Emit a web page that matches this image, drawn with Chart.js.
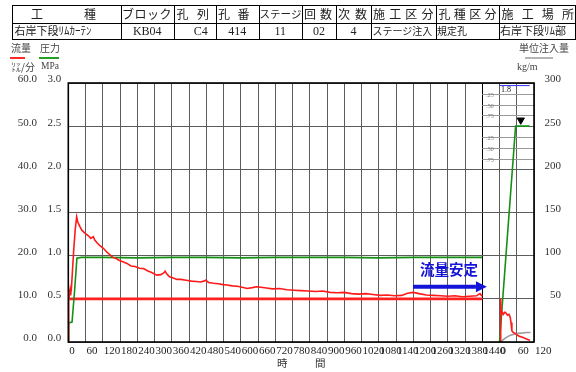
<!DOCTYPE html>
<html><head><meta charset="utf-8">
<script src="https://cdn.jsdelivr.net/npm/chart.js@4.4.1/dist/chart.umd.min.js"></script>
<style>
html,body{margin:0;padding:0;background:#fff;}
#wrap{position:relative;width:576px;height:372px;overflow:hidden;font-family:'Noto Sans CJK JP',sans-serif;color:#222;}
#wrap canvas{position:absolute;left:0;top:0;}
.abs{position:absolute;white-space:nowrap;line-height:1;}
.cell{position:absolute;display:flex;align-items:center;box-sizing:border-box;white-space:nowrap;line-height:1;}
.vl{position:absolute;width:1px;background:#000;}
.num{font-family:'Liberation Serif',serif;}
</style>
</head><body>
<div id="wrap">
<canvas id="c" width="576" height="372"></canvas>
<div id="tbl"></div>
<div class="abs" style="left:11px;top:43px;font-size:10px;color:#444;">流量</div>
<div class="abs" style="left:40px;top:43px;font-size:10px;color:#444;">圧力</div>
<div class="abs" style="left:10px;top:56.5px;width:15px;height:2px;background:#ff2a2a;"></div>
<div class="abs" style="left:39px;top:56.5px;width:20px;height:2px;background:#23a023;"></div>
<div class="abs" style="left:11px;top:61.5px;font-size:10px;color:#444;">㍑/分</div>
<div class="abs num" style="left:41px;top:62px;font-size:9.5px;color:#444;">MPa</div>
<div class="abs" style="left:519px;top:43px;font-size:10px;color:#444;">単位注入量</div>
<div class="abs" style="left:525px;top:56.5px;width:28px;height:2px;background:#b4b4b4;"></div>
<div class="abs num" style="left:517px;top:62px;font-size:10px;color:#444;">kg/m</div>
<div class="abs" style="left:277px;top:358px;font-size:10.5px;color:#333;">時</div>
<div class="abs" style="left:315px;top:358px;font-size:10.5px;color:#333;">間</div>
</div>
<script>
// ---- elapsed time axis (minutes); the stage-2 panel continues after a 60 min gap ----
const xTickLabels = ['0','60','120','180','240','300','360','420','480','540','600','660','720','780',
  '840','900','960','1020','1080','1140','1200','1260','1320','1380','1440','0','60','120'];

// main stage: flow rate (L/min)
const flowTime = [0,1,2,4,6,8,11,14,19,24,29,33,40,47,55,62,70,78,87,92,100,110,122,133,145,155,165,178,190,204,
  218,232,248,262,275,290,308,322,332,337,342,352,365,378,392,410,428,445,460,471,478,488,505,522,538,552,570,588,
  605,622,640,655,669,690,710,735,760,785,810,835,860,885,910,935,960,985,1010,1035,1060,1085,1110,1135,1160,1180,
  1200,1220,1245,1270,1295,1320,1345,1370,1395,1420,1432,1440];
const flowRate = [0,10.5,12.2,11.0,12.0,10.8,12.6,16.0,21.5,26.0,29.0,27.8,26.8,25.9,25.4,25.0,24.6,24.0,24.4,23.6,
  23.0,22.3,21.7,20.9,20.2,19.6,19.4,18.9,18.6,18.2,17.6,17.5,17.1,17.0,16.5,16.1,15.5,15.6,16.0,16.4,15.8,15.1,14.8,
  14.5,14.5,14.3,14.1,14.0,13.9,14.1,14.3,13.8,13.6,13.5,13.3,13.2,13.0,12.9,12.7,12.4,12.6,12.8,12.7,12.5,12.3,12.4,
  12.1,12.0,11.9,11.8,11.7,11.8,11.5,11.4,11.5,11.2,11.1,11.2,11.0,10.8,10.9,10.7,10.8,11.3,11.5,11.2,10.9,10.8,
  10.7,10.6,10.7,10.5,10.6,10.7,11.2,10.6];

// main stage: injection pressure (MPa)
const pressTime = [0,1,13,22,30,45,120,240,360,480,600,720,840,960,1080,1200,1320,1440];
const pressValue = [0,0.22,0.23,0.6,0.97,0.98,0.98,0.975,0.98,0.98,0.975,0.98,0.98,0.98,0.975,0.98,0.98,0.98];

// specified flow line (L/min)
const refTime = [0,1440];
const refFlow = [10,10];

// stage-2 panel
const s2PressTime = [1500,1556,1605];
const s2Press = [0,2.5,2.5];
const s2FlowTime = [1503,1504,1506,1509,1513,1519,1524,1528,1533,1537,1540,1543,1548,1555,1562,1570,1580,1590,1598,1606];
const s2Flow = [0,10.1,6.5,7.0,6.4,6.9,6.6,6.2,6.4,5.8,4.5,2.6,2.2,2.0,1.6,1.3,1.1,0.8,0.6,0.4];
const unitTime = [1503,1510,1520,1530,1540,1552,1565,1580,1595,1608];
const unitValue = [0,2,4.5,6.5,8,9,10,10.5,11,11];   // kg/m
const capTime = [1500,1605];
const capValue = [297,297];
const markTime = [1574];
const markPress = [2.57];

// header record
const headCells = [['工','種'],['ブ','ロ','ッ','ク'],['孔','列'],['孔','番'],['ス','テ','ー','ジ'],['回','数'],['次','数'],
  ['施','工','区','分'],['孔','種','区','分'],['施','工','場','所']];
const recordRow = ['右岸下段ﾘﾑｶｰﾃﾝ','KB04','C4','414','11','02','4','ステージ注入','規定孔','右岸下段ﾘﾑ部'];

// ---- header table ----
(function buildTable(){
  const tbl = document.getElementById('tbl');
  const cols = [13,121,173.5,216,258.5,302,336,371,435.5,498.5,575];
  const rows = [6,22.5,39];
  const pads = [[18,25],[1,2],[3,7],[2,9],[1,1],[2,4],[2,4],[2,2],[3,2],[3,1]];
  let html = `<div class="abs" style="left:${cols[0]-1}px;top:${rows[0]-1}px;width:${cols[10]-cols[0]+2}px;height:${rows[2]-rows[0]+2}px;border:1.5px solid #000;box-sizing:border-box;"></div>`;
  html += `<div class="abs" style="left:${cols[0]}px;top:${rows[1]}px;width:${cols[10]-cols[0]}px;height:1px;background:#000;"></div>`;
  for (let i=1;i<cols.length-1;i++) html += `<div class="vl" style="left:${cols[i]}px;top:${rows[0]}px;height:${rows[2]-rows[0]}px;"></div>`;
  headCells.forEach((chars,i)=>{
    const fs = i===4 ? 10.5 : 12;
    html += `<div class="cell" style="left:${cols[i]}px;top:${rows[0]}px;width:${cols[i+1]-cols[i]}px;height:${rows[1]-rows[0]}px;justify-content:space-between;padding:0 ${pads[i][1]}px 0 ${pads[i][0]}px;font-size:${fs}px;">`+
      chars.map(c=>`<span>${c}</span>`).join('')+`</div>`;
  });
  recordRow.forEach((txt,i)=>{
    const left = [0,7,8,9].includes(i);
    const numeric = /^[A-Z0-9]+$/.test(txt);
    const fs = numeric ? 12 : (i===7||i===8 ? 10 : 11);
    const pl = i===2 ? 12 : (left ? 1.5 : 0);
    html += `<div class="cell${numeric?' num':''}" style="left:${cols[i]}px;top:${rows[1]}px;width:${cols[i+1]-cols[i]}px;height:${rows[2]-rows[1]}px;justify-content:${left?'flex-start':'center'};padding-left:${pl}px;font-size:${fs}px;">${txt}</div>`;
  });
  tbl.innerHTML = html;
})();

// ---- chart ----
const SERIF = "'Liberation Serif','Noto Sans CJK JP',serif";
const pts = (xs, ys) => xs.map((x,i)=>({x, y:ys[i]}));

const overlay = {
  id:'overlay',
  beforeDatasetsDraw(chart){
    const {ctx, chartArea:ca, scales} = chart;
    const x0 = scales.x.getPixelForValue(1440);
    ctx.save();
    // quarter lines in the stage-2 panel
    ctx.strokeStyle = '#9a9a9a'; ctx.lineWidth = 1;
    ctx.fillStyle = '#777'; ctx.font = "6px 'Liberation Serif',serif"; ctx.textBaseline = 'middle'; ctx.textAlign='left';
    [[2.875,'.25'],[2.75,'.50'],[2.625,'.75'],[2.375,'.25'],[2.25,'.50'],[2.125,'.75']].forEach(([v,lab])=>{
      const y = Math.round(scales.yPress.getPixelForValue(v))+0.5;
      ctx.beginPath(); ctx.moveTo(x0, y); ctx.lineTo(ca.right, y); ctx.stroke();
      ctx.fillText(lab, x0+4, y+0.5);
    });
    ctx.restore();
  },
  afterDatasetsDraw(chart){
    const {ctx, scales} = chart;
    const xs = scales.x, yf = scales.yFlow, yu = scales.yUnit;
    ctx.save();
    // annotation: stable flow
    ctx.fillStyle = '#1414d8';
    ctx.font = "bold 14.5px 'Noto Sans CJK JP',sans-serif";
    ctx.textAlign = 'center'; ctx.textBaseline = 'middle';
    ctx.fillText('流量安定', xs.getPixelForValue(1324), yf.getPixelForValue(16.7));
    const ay = yf.getPixelForValue(12.8);
    const ax0 = xs.getPixelForValue(1199), ax1 = xs.getPixelForValue(1418), tip = xs.getPixelForValue(1456);
    ctx.fillRect(ax0, ay-2, ax1-ax0, 4);
    ctx.beginPath(); ctx.moveTo(ax1, ay-5.5); ctx.lineTo(tip, ay); ctx.lineTo(ax1, ay+5.5); ctx.closePath(); ctx.fill();
    // cap value label
    ctx.fillStyle = '#111'; ctx.font = "8px 'Liberation Serif',serif"; ctx.textAlign='left'; ctx.textBaseline='top';
    ctx.fillText('1.8', xs.getPixelForValue(1505), yu.getPixelForValue(297)+0.5);
    ctx.restore();
  },
  afterDraw(chart){
    const {ctx, chartArea:ca} = chart;
    ctx.save();
    ctx.strokeStyle = '#000'; ctx.lineWidth = 1.6;
    ctx.strokeRect(ca.left, ca.top, ca.right-ca.left, ca.bottom-ca.top);
    ctx.restore();
  }
};

new Chart(document.getElementById('c'), {
  type:'line',
  data:{datasets:[
    {label:'流量', data:pts(flowTime, flowRate), yAxisID:'yFlow', borderColor:'#ff1a1a', borderWidth:1.6, order:1},
    {label:'規定流量', data:pts(refTime, refFlow), yAxisID:'yFlow', borderColor:'#ff2020', borderWidth:2.6, order:4},
    {label:'圧力', data:pts(pressTime, pressValue), yAxisID:'yPress', borderColor:'#159015', borderWidth:1.6, order:3},
    {label:'圧力2', data:pts(s2PressTime, s2Press), yAxisID:'yPress', borderColor:'#159015', borderWidth:1.6, order:3},
    {label:'流量2', data:pts(s2FlowTime, s2Flow), yAxisID:'yFlow', borderColor:'#ff1a1a', borderWidth:1.6, order:2},
    {label:'単位注入量', data:pts(unitTime, unitValue), yAxisID:'yUnit', borderColor:'#9a9a9a', borderWidth:1.6, order:5},
    {label:'上限', data:pts(capTime, capValue), yAxisID:'yUnit', borderColor:'#3030ff', borderWidth:1, order:5},
    {label:'到達', data:pts(markTime, markPress), yAxisID:'yPress', showLine:false, pointStyle:'triangle', rotation:180,
      pointRadius:4.2, pointBackgroundColor:'#000', pointBorderColor:'#000', order:0}
  ]},
  options:{
    responsive:false, animation:false, events:[],
    layout:{padding:{top:83,left:0,right:15,bottom:0}},
    plugins:{legend:{display:false}, tooltip:{enabled:false}},
    elements:{point:{radius:0}, line:{tension:0}},
    scales:{
      x:{type:'linear', position:'bottom', min:0, max:1620,
        ticks:{stepSize:60, autoSkip:false, maxRotation:0, minRotation:0, align:'start', padding:3, labelOffset:1,
          color:'#222', font:{family:SERIF, size:11},
          callback:(v)=>xTickLabels[Math.round(v/60)]},
        grid:{color:(c)=> (c.tick && c.tick.value===1440) ? '#000' : '#5c5c5c', lineWidth:1, drawTicks:false},
        border:{display:false},
        afterFit(a){ a.height = 30; }
      },
      yFlow:{type:'linear', position:'left', weight:1, min:0, max:60,
        ticks:{stepSize:10, padding:7, labelOffset:-3.5, color:'#333', font:{family:SERIF, size:11},
          callback:(v)=>v.toFixed(1)},
        grid:{display:false, drawTicks:false}, border:{display:false},
        afterFit(a){ a.width = 44; }
      },
      yPress:{type:'linear', position:'left', weight:0, min:0, max:3,
        ticks:{stepSize:0.5, padding:7, labelOffset:-3.5, color:'#333', font:{family:SERIF, size:11},
          callback:(v)=>v.toFixed(1)},
        grid:{color:'#5c5c5c', lineWidth:1, drawTicks:false}, border:{display:false},
        afterFit(a){ a.width = 24.3; }
      },
      yUnit:{type:'linear', position:'right', min:0, max:300,
        ticks:{stepSize:50, padding:10, crossAlign:'far', labelOffset:-3.5, color:'#333', font:{family:SERIF, size:11},
          callback:(v)=> v===0 ? '' : String(v)},
        grid:{display:false, drawTicks:false}, border:{display:false},
        afterFit(a){ a.width = 27; }
      }
    }
  },
  plugins:[overlay]
});
</script>
</body></html>
